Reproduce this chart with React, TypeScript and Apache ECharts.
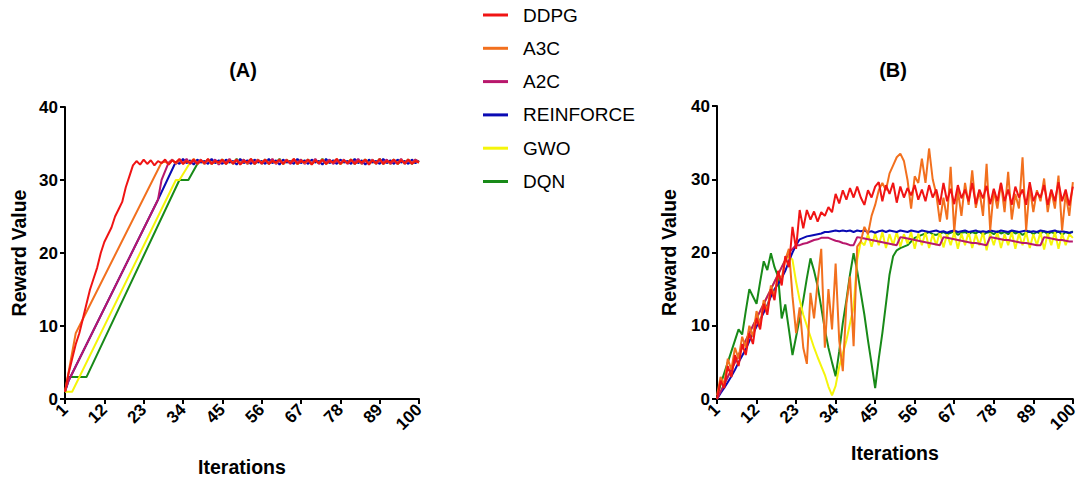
import React, { useEffect, useRef } from "react";
import * as echarts from "echarts";

const SERIES_NAMES = ["DDPG", "A3C", "A2C", "REINFORCE", "GWO", "DQN"];
const SERIES_COLORS = ["#f01414", "#f2701e", "#b8176c", "#0a0ab4", "#f5f50a", "#188a18"];
const X_TICKS = [1, 12, 23, 34, 45, 56, 67, 78, 89, 100];

// ---------- Panel A: rising parts as [iteration, reward] ----------
const A_DDPG_RAMP = [[1, 1], [2, 3.5], [3, 5.5], [4, 7.5], [5, 9], [6, 11], [7, 13], [8, 15], [9, 16.5], [10, 18], [11, 20], [12, 21.5], [13, 22.5], [14, 23.5], [15, 25], [16, 26], [17, 27], [18, 29], [19, 30.5], [20, 32]];
const A_A3C_RAMP = [[1, 1], [4, 9], [28, 32.4]];
const A_A2C_RAMP = [[1, 1], [2, 2.5], [27, 27.3], [28, 30]];
const A_REINFORCE_RAMP = [[1, 1], [2, 2.5], [27, 27.3]];
const A_GWO_RAMP = [[1, 1], [3, 1], [32, 30], [33, 30]];
const A_DQN_RAMP = [[1, 1], [2, 3], [7, 3], [33, 30], [35.5, 30]];

// Panel A plateau values, first iteration of each plateau given separately
const A_PLATEAU_START = [21, 29, 30, 32, 36, 38];
const A_DDPG_PLATEAU = [
  32.6, 32.1, 32.8, 32.2, 32.7, 32.0, 32.6, 32.3, 32.8, 32.1,
  32.7, 32.4, 32.9, 32.2, 32.6, 32.3, 32.8, 32.2, 32.7, 32.3,
  32.9, 32.2, 32.6, 32.4, 32.8, 32.2, 32.7, 32.3, 32.8, 32.1,
  32.6, 32.4, 32.9, 32.2, 32.7, 32.3, 32.8, 32.2, 32.6, 32.4,
  32.8, 32.2, 32.7, 32.3, 32.9, 32.2, 32.6, 32.4, 32.8, 32.1,
  32.7, 32.3, 32.8, 32.2, 32.6, 32.4, 32.9, 32.2, 32.7, 32.3,
  32.8, 32.2, 32.6, 32.4, 32.8, 32.1, 32.7, 32.3, 32.9, 32.2,
  32.6, 32.4, 32.8, 32.2, 32.7, 32.3, 32.8, 32.2, 32.6, 32.4,
];
const A_A3C_PLATEAU = [
  32.5, 32.2, 32.7, 32.3, 32.8, 32.2, 32.6, 32.4, 32.9, 32.2,
  32.7, 32.3, 32.8, 32.2, 32.6, 32.3, 32.8, 32.2, 32.7, 32.4,
  32.8, 32.2, 32.6, 32.3, 32.9, 32.2, 32.7, 32.4, 32.8, 32.2,
  32.6, 32.3, 32.8, 32.2, 32.7, 32.4, 32.9, 32.2, 32.6, 32.3,
  32.8, 32.2, 32.7, 32.3, 32.8, 32.2, 32.6, 32.4, 32.9, 32.2,
  32.7, 32.3, 32.8, 32.2, 32.6, 32.4, 32.8, 32.2, 32.7, 32.3,
  32.8, 32.2, 32.6, 32.4, 32.8, 32.2, 32.7, 32.3, 32.8, 32.3,
  32.6, 32.4,
];
const A_A2C_PLATEAU = [
  32.4, 32.8, 32.2, 32.7, 32.3, 32.9, 32.2, 32.6, 32.4, 32.8,
  32.2, 32.7, 32.3, 32.8, 32.1, 32.6, 32.4, 32.9, 32.2, 32.7,
  32.3, 32.8, 32.2, 32.6, 32.4, 32.8, 32.2, 32.7, 32.3, 32.9,
  32.2, 32.6, 32.3, 32.8, 32.2, 32.7, 32.4, 32.8, 32.2, 32.6,
  32.3, 32.9, 32.2, 32.7, 32.4, 32.8, 32.2, 32.6, 32.3, 32.8,
  32.2, 32.7, 32.4, 32.9, 32.2, 32.6, 32.3, 32.8, 32.2, 32.7,
  32.4, 32.8, 32.2, 32.6, 32.3, 32.9, 32.2, 32.7, 32.4, 32.8,
  32.5,
];
const A_REINFORCE_PLATEAU = [
  32.5, 32.2, 32.9, 32.3, 32.7, 32.1, 32.8, 32.4, 32.6, 32.2,
  32.9, 32.3, 32.7, 32.2, 32.8, 32.4, 32.6, 32.1, 32.9, 32.3,
  32.7, 32.2, 32.8, 32.4, 32.6, 32.2, 32.9, 32.3, 32.7, 32.1,
  32.8, 32.4, 32.6, 32.2, 32.9, 32.3, 32.7, 32.2, 32.8, 32.4,
  32.6, 32.1, 32.9, 32.3, 32.7, 32.2, 32.8, 32.4, 32.6, 32.2,
  32.9, 32.3, 32.7, 32.1, 32.8, 32.4, 32.6, 32.2, 32.9, 32.3,
  32.7, 32.2, 32.8, 32.4, 32.6, 32.2, 32.8, 32.3, 32.6,
];
const A_GWO_PLATEAU = [
  32.4, 32.8, 32.3, 32.7, 32.2, 32.8, 32.4, 32.6, 32.2, 32.8,
  32.3, 32.7, 32.2, 32.6, 32.4, 32.8, 32.2, 32.7, 32.3, 32.8,
  32.2, 32.6, 32.4, 32.8, 32.3, 32.7, 32.2, 32.8, 32.4, 32.6,
  32.2, 32.8, 32.3, 32.7, 32.2, 32.6, 32.4, 32.8, 32.2, 32.7,
  32.3, 32.8, 32.2, 32.6, 32.4, 32.8, 32.3, 32.7, 32.2, 32.8,
  32.4, 32.6, 32.2, 32.8, 32.3, 32.7, 32.2, 32.6, 32.4, 32.8,
  32.2, 32.7, 32.3, 32.8, 32.4,
];
const A_DQN_PLATEAU = [
  32.2, 32.6, 32.3, 32.8, 32.2, 32.7, 32.4, 32.8, 32.2, 32.6,
  32.3, 32.9, 32.2, 32.7, 32.4, 32.8, 32.2, 32.6, 32.3, 32.8,
  32.2, 32.7, 32.4, 32.9, 32.2, 32.6, 32.3, 32.8, 32.2, 32.7,
  32.4, 32.8, 32.2, 32.6, 32.3, 32.9, 32.2, 32.7, 32.4, 32.8,
  32.2, 32.6, 32.3, 32.8, 32.2, 32.7, 32.4, 32.8, 32.2, 32.6,
  32.3, 32.9, 32.2, 32.7, 32.4, 32.8, 32.2, 32.6, 32.3, 32.8,
  32.2, 32.7, 32.5,
];

// ---------- Panel B: reward at iterations 1..100 ----------
const B_DDPG = [
  0, 2.5, 1.5, 4.5, 3, 6, 4.5, 7.5, 6, 9,
  7.5, 11, 9.5, 13, 11.5, 15, 13.5, 17.5, 15.5, 19.5,
  18, 23.5, 20.5, 25.8, 23.3, 25.8, 24.5, 25.6, 24.2, 25.5,
  25, 26.2, 25.5, 28, 26.7, 28.5, 27.2, 28.8, 27.5, 29,
  27.5, 26.5, 28.5, 27.5, 29, 29.6, 27, 29.2, 28, 29.5,
  26.8, 29, 27.5, 28.8, 27.8, 29.2, 27.2, 28.6, 27, 29.2,
  27.5, 28.6, 26.5, 29.5, 27, 28.7, 26.6, 29.2, 27.4, 28.6,
  27, 29.5, 26.6, 28.6, 27.4, 29.1, 26.6, 28.7, 27, 29.5,
  27, 28.6, 26.5, 29, 27.5, 28.6, 26.5, 29.6, 27, 28.2,
  27.5, 29.2, 26.5, 28.6, 27, 29.6, 27, 28.6, 26.4, 29,
];
const B_A3C = [
  0.5, 3, 2, 5.5, 4, 7, 5.5, 8.5, 7, 10,
  8.5, 12, 10, 13.5, 12, 15.5, 14, 17, 16.5, 19,
  20.5, 14, 9, 12.5, 7, 4.8, 14.5, 11, 16, 20.5,
  7, 15, 9.5, 18.5, 8, 3.8, 13, 16.7, 7.2, 20.8,
  21.5, 23.5, 22.5, 25, 26.5, 28.5, 29.5, 28.5, 30.8, 31.9,
  33, 33.5, 32.5, 29.9, 26, 30.4, 29.5, 32.8, 29.5, 34.2,
  30, 28, 24.2, 27.5, 24.5, 31.7, 22.8, 28.5, 25, 29.5,
  26.5, 31.2, 26.1, 28.5, 25, 32.1, 23, 28.5, 26, 29.5,
  25.5, 31, 24.5, 28, 26, 33, 23, 29, 25.5, 28.5,
  27, 30.1, 25.5, 28.5, 26, 30.5, 23, 28, 25, 29.6,
];
const B_A2C = [
  0, 1, 2, 3, 4, 5, 6, 7, 8, 9,
  10, 11, 12, 13, 14, 15, 16, 17, 18, 19,
  20, 20.5, 21, 21, 21.2, 21.3, 21.5, 21.7, 21.8, 22,
  22, 22, 21.8, 21.6, 21.5, 21.3, 21.2, 21, 21, 22.1,
  22, 21.9, 21.8, 21.7, 21.6, 21.5, 21.4, 21.3, 21.2, 21.1,
  21, 22.1, 22, 21.9, 21.8, 21.7, 21.6, 21.5, 21.4, 21.3,
  21.2, 21.1, 21, 22.1, 22, 21.9, 21.8, 21.7, 21.6, 21.5,
  21.4, 21.3, 21.3, 21.2, 21.1, 21, 22.1, 22, 21.9, 21.8,
  21.7, 21.7, 21.6, 21.5, 21.4, 21.3, 21.3, 21.2, 21.1, 21,
  21, 22.1, 22, 21.9, 21.8, 21.7, 21.7, 21.6, 21.5, 21.5,
];
const B_REINFORCE = [
  0, 0.8, 1.5, 2.3, 3.1, 4, 5, 5.9, 6.8, 7.9,
  8.9, 9.9, 10.8, 11.8, 12.8, 14, 15, 15.7, 16.5, 17.5,
  18.8, 20, 21, 21.8, 22, 22.2, 22.3, 22.4, 22.5, 22.6,
  22.8, 22.8, 22.9, 23, 22.9, 23, 22.9, 23, 22.8, 23,
  22.9, 23, 22.8, 22.9, 22.7, 22.9, 23, 22.8, 23, 22.9,
  22.8, 23, 22.9, 22.8, 23, 22.9, 22.8, 23, 22.9, 22.8,
  22.9, 23, 22.8, 22.9, 22.7, 22.9, 23, 22.8, 22.9, 23,
  22.8, 22.9, 23, 22.8, 22.9, 22.8, 23, 22.9, 22.8, 23,
  22.9, 22.8, 23, 22.9, 22.8, 22.9, 23, 22.8, 22.9, 22.8,
  23, 22.9, 22.8, 22.9, 23, 22.8, 22.9, 22.8, 22.7, 22.8,
];
const B_GWO = [
  0, 1, 2, 3, 4, 5, 6, 7, 8, 9,
  10, 11, 12, 13, 14, 15, 16, 17, 18, 19,
  19.5, 19, 16, 13.5, 11.5, 10, 8.5, 7, 5.7, 4.5,
  3.3, 1.7, 0.5, 1.8, 4.4, 6.2, 8, 10.3, 12.6, 19,
  21.5, 21, 22.5, 20.8, 22.6, 21, 22.8, 20.6, 22.5, 21,
  22.8, 20.8, 22.5, 21.2, 22.8, 20.5, 22.6, 21, 22.8, 20.6,
  22.5, 21, 22.8, 20.7, 22.5, 21, 22.8, 20.5, 22.6, 21,
  22.8, 20.6, 22.5, 21, 22.8, 20.3, 22.6, 21, 22.8, 20.6,
  22.5, 21, 22.8, 20.5, 22.6, 21, 22.8, 20.6, 22.5, 21,
  22.8, 20.4, 22.6, 21, 22.8, 20.5, 22.6, 21, 22.5, 22,
];
const B_DQN = [
  0, 2, 3.5, 5, 6.5, 8, 9.5, 8.8, 12, 15,
  14, 13, 16, 18.8, 17.6, 19.9, 18, 16.7, 11, 12.9,
  9.5, 6, 8.5, 11, 13.5, 16.5, 19.2, 17.5, 15.4, 12.5,
  9.5, 7, 5, 3.1, 6.5, 10.4, 13.5, 17, 19.9, 17.5,
  14.5, 11.5, 8, 4.8, 1.5, 5.5, 9, 13, 17, 19.5,
  20.3, 20.6, 20.8, 21, 21.5, 22, 22.2, 22.4, 22.6, 22.8,
  22.5, 22.4, 22.6, 22.8, 22.5, 22.7, 22.9, 22.4, 22.7, 22.8,
  22.5, 22.8, 22.6, 22.9, 22.4, 22.7, 22.8, 22.5, 22.9, 22.6,
  22.8, 22.5, 22.9, 22.6, 22.8, 22.4, 22.7, 22.9, 22.5, 22.8,
  22.6, 22.9, 22.5, 22.8, 22.6, 22.9, 22.4, 22.8, 22.6, 22.9,
];

const A_RAMPS = [A_DDPG_RAMP, A_A3C_RAMP, A_A2C_RAMP, A_REINFORCE_RAMP, A_GWO_RAMP, A_DQN_RAMP];
const A_PLATEAUS = [A_DDPG_PLATEAU, A_A3C_PLATEAU, A_A2C_PLATEAU, A_REINFORCE_PLATEAU, A_GWO_PLATEAU, A_DQN_PLATEAU];
const B_VALUES = [B_DDPG, B_A3C, B_A2C, B_REINFORCE, B_GWO, B_DQN];

const FONT = "Liberation Sans";

function panelAData(i: number): number[][] {
  const pts = A_RAMPS[i].map((p) => [p[0], p[1]]);
  A_PLATEAUS[i].forEach((v, k) => {
    const x = A_PLATEAU_START[i] + k;
    if (x <= 100) pts.push([x, v]);
  });
  return pts;
}

function makeXAxis(gridIndex: number, nameGap: number) {
  return {
    type: "value",
    gridIndex,
    min: 1,
    max: 100,
    name: "Iterations",
    nameLocation: "middle",
    nameGap,
    nameTextStyle: { fontFamily: FONT, fontWeight: "bold", fontSize: 19.5, color: "#000" },
    axisLine: { show: true, lineStyle: { color: "#000", width: 2 } },
    axisTick: { show: true, length: 5, lineStyle: { color: "#000", width: 2 }, customValues: X_TICKS },
    axisLabel: {
      customValues: X_TICKS,
      rotate: 45,
      margin: 8,
      fontFamily: FONT,
      fontWeight: "bold",
      fontSize: 17,
      color: "#000",
    },
    splitLine: { show: false },
  };
}

function makeYAxis(gridIndex: number, nameGap: number) {
  return {
    type: "value",
    gridIndex,
    min: 0,
    max: 40,
    interval: 10,
    name: "Reward Value",
    nameLocation: "middle",
    nameGap,
    nameTextStyle: { fontFamily: FONT, fontWeight: "bold", fontSize: 19.5, color: "#000" },
    axisLine: { show: true, lineStyle: { color: "#000", width: 2 } },
    axisTick: { show: true, length: 5, lineStyle: { color: "#000", width: 2 } },
    axisLabel: { margin: 7, fontFamily: FONT, fontWeight: "bold", fontSize: 17, color: "#000" },
    splitLine: { show: false },
  };
}

const DRAW_ORDER = [5, 4, 3, 2, 1, 0];

export default function App() {
  const ref = useRef<HTMLDivElement>(null);

  useEffect(() => {
    document.body.style.margin = "0";
    if (!ref.current) return;
    const chart = echarts.init(ref.current, undefined, { renderer: "svg" });

    const series: any[] = [];
    DRAW_ORDER.forEach((i) => {
      series.push({
        type: "line",
        name: SERIES_NAMES[i],
        xAxisIndex: 0,
        yAxisIndex: 0,
        data: panelAData(i),
        showSymbol: false,
        symbol: "none",
        color: SERIES_COLORS[i],
        lineStyle: { width: 2, color: SERIES_COLORS[i] },
      });
    });
    DRAW_ORDER.forEach((i) => {
      series.push({
        type: "line",
        name: SERIES_NAMES[i],
        xAxisIndex: 1,
        yAxisIndex: 1,
        data: B_VALUES[i].map((v, k) => [k + 1, v]),
        showSymbol: false,
        symbol: "none",
        color: SERIES_COLORS[i],
        lineStyle: { width: 2, color: SERIES_COLORS[i] },
      });
    });

    chart.setOption({
      animation: false,
      backgroundColor: "#fff",
      grid: [
        { left: 65, top: 107, width: 354, height: 292 },
        { left: 717, top: 106, width: 356, height: 293 },
      ],
      xAxis: [makeXAxis(0, 58), makeXAxis(1, 44)],
      yAxis: [makeYAxis(0, 36), makeYAxis(1, 38)],
      legend: {
        data: SERIES_NAMES,
        orient: "vertical",
        left: 483,
        top: 5,
        padding: 0,
        icon: "rect",
        itemWidth: 25,
        itemHeight: 3,
        itemGap: 13.3,
        selectedMode: false,
        textStyle: { fontFamily: FONT, fontSize: 19, color: "#000", padding: [0, 0, 0, 10], lineHeight: 20 },
      },
      graphic: [
        {
          type: "text",
          x: 243,
          y: 70,
          style: { text: "(A)", fontFamily: FONT, fontWeight: "bold", fontSize: 20, fill: "#000", textAlign: "center", textVerticalAlign: "middle" },
        },
        {
          type: "text",
          x: 893,
          y: 70,
          style: { text: "(B)", fontFamily: FONT, fontWeight: "bold", fontSize: 20, fill: "#000", textAlign: "center", textVerticalAlign: "middle" },
        },
      ],
      series,
    });

    return () => chart.dispose();
  }, []);

  return <div ref={ref} style={{ width: 1081, height: 482 }} />;
}
